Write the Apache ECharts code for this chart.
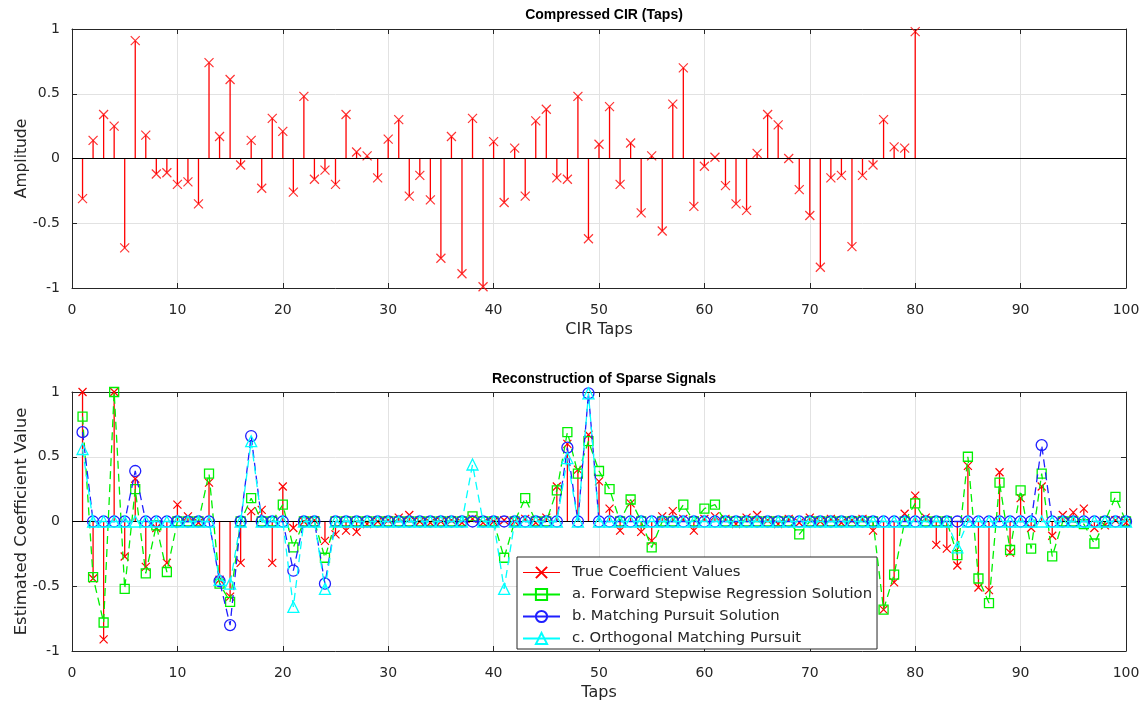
<!DOCTYPE html>
<html><head><meta charset="utf-8">
<script src="https://cdn.jsdelivr.net/npm/echarts@6/dist/echarts.min.js"></script>
<style>html,body{margin:0;padding:0;background:#fff}#c{width:1146px;height:707px}</style>
</head><body><div id="c"></div>
<script>
// ---- Top plot: Compressed CIR (taps 1..80)
const cirValues = [
 -0.31, 0.14, 0.34, 0.25, -0.69, 0.91, 0.18, -0.12, -0.11, -0.20,
 -0.18, -0.35, 0.74, 0.17, 0.61, -0.05, 0.14, -0.23, 0.31, 0.21,
 -0.26, 0.48, -0.16, -0.09, -0.20, 0.34, 0.05, 0.02, -0.15, 0.15,
 0.30, -0.29, -0.13, -0.32, -0.77, 0.17, -0.89, 0.31, -0.99, 0.13,
 -0.34, 0.08, -0.29, 0.29, 0.38, -0.15, -0.16, 0.48, -0.62, 0.11,
 0.40, -0.20, 0.12, -0.42, 0.02, -0.56, 0.42, 0.70, -0.37, -0.06,
 0.01, -0.21, -0.35, -0.40, 0.04, 0.34, 0.26, 0.00, -0.24, -0.44,
 -0.84, -0.15, -0.13, -0.68, -0.13, -0.05, 0.30, 0.09, 0.08, 0.98
];
// ---- Bottom plot: Reconstruction (taps 1..100)
const trueValues = [
 1.00, -0.44, -0.91, 1.00, -0.27, 0.33, -0.35, -0.05, -0.32, 0.13,
 0.04, -0.01, 0.30, -0.45, -0.58, -0.32, 0.08, 0.09, -0.32, 0.27,
 -0.05, 0.00, 0.01, -0.15, -0.10, -0.07, -0.08, -0.02, 0.00, 0.01,
 0.03, 0.05, 0.00, -0.01, 0.00, 0.01, -0.01, 0.02, -0.01, 0.00,
 0.01, 0.00, 0.02, -0.01, 0.03, 0.27, 0.60, 0.40, 0.67, 0.31,
 0.10, -0.07, 0.14, -0.08, -0.15, 0.04, 0.08, 0.02, -0.07, 0.02,
 0.04, 0.02, -0.02, 0.03, 0.05, 0.01, -0.02, 0.02, -0.01, 0.03,
 0.00, 0.02, -0.01, 0.01, 0.02, -0.07, -0.68, -0.47, 0.06, 0.20,
 0.03, -0.18, -0.21, -0.34, 0.43, -0.51, -0.53, 0.38, -0.24, 0.18,
 -0.05, 0.27, -0.11, 0.05, 0.07, 0.10, -0.05, -0.03, 0.01, -0.01
];
const forwardStepwise = [
 0.81, -0.43, -0.78, 1.00, -0.52, 0.25, -0.40, -0.03, -0.39, 0.00,
 0.00, 0.00, 0.37, -0.48, -0.62, 0.00, 0.18, 0.00, 0.00, 0.13,
 -0.20, 0.00, 0.00, -0.28, 0.00, 0.00, 0.00, 0.00, 0.00, 0.00,
 0.00, 0.00, 0.00, 0.00, 0.00, 0.00, 0.00, 0.04, 0.00, 0.00,
 -0.28, 0.00, 0.18, 0.00, 0.00, 0.24, 0.69, 0.37, 0.62, 0.39,
 0.25, 0.00, 0.17, 0.00, -0.20, 0.00, 0.00, 0.13, 0.00, 0.10,
 0.13, 0.00, 0.00, 0.00, 0.00, 0.00, 0.00, 0.00, -0.10, 0.00,
 0.00, 0.00, 0.00, 0.00, 0.00, 0.00, -0.68, -0.41, 0.00, 0.14,
 0.00, 0.00, 0.00, -0.26, 0.50, -0.44, -0.63, 0.30, -0.22, 0.24,
 -0.21, 0.37, -0.27, 0.00, 0.00, -0.02, -0.17, 0.00, 0.19, 0.00
];
const matchingPursuit = [
 0.69, 0, 0, 0, 0, 0.39, 0, 0, 0, 0,
 0, 0, 0, -0.46, -0.80, 0, 0.66, 0, 0, 0,
 -0.38, 0, 0, -0.48, 0, 0, 0, 0, 0, 0,
 0, 0, 0, 0, 0, 0, 0, 0, 0, 0,
 0, 0, 0, 0, 0, 0, 0.57, 0, 0.99, 0,
 0, 0, 0, 0, 0, 0, 0, 0, 0, 0,
 0, 0, 0, 0, 0, 0, 0, 0, 0, 0,
 0, 0, 0, 0, 0, 0, 0, 0, 0, 0,
 0, 0, 0, 0, 0, 0, 0, 0, 0, 0,
 0, 0.59, 0, 0, 0, 0, 0, 0, 0, 0
];
const orthogonalMP = [
 0.56, 0, 0, 0, 0, 0, 0, 0, 0, 0,
 0, 0, 0, -0.45, -0.48, 0, 0.62, 0, 0, 0,
 -0.66, 0, 0, -0.52, 0, 0, 0, 0, 0, 0,
 0, 0, 0, 0, 0, 0, 0, 0.44, 0, 0,
 -0.52, 0, 0, 0, 0, 0, 0.49, 0, 0.99, 0,
 0, 0, 0, 0, 0, 0, 0, 0, 0, 0,
 0, 0, 0, 0, 0, 0, 0, 0, 0, 0,
 0, 0, 0, 0, 0, 0, 0, 0, 0, 0,
 0, 0, 0, -0.20, 0, 0, 0, 0, 0, 0,
 0, 0, 0, 0, 0, 0, 0, 0, 0, 0
];
const seriesNames = ['True Coefficient Values', 'a. Forward Stepwise Regression Solution',
  'b. Matching Pursuit Solution', 'c. Orthogonal Matching Pursuit'];
const titles = ['Compressed CIR (Taps)', 'Reconstruction of Sparse Signals'];
const xNames = ['CIR Taps', 'Taps'];
const yNames = ['Amplitude', 'Estimated Coefficient Value'];

const toXY = arr => arr.map((v, i) => [i + 1, v]);
const FONT = 'DejaVu Sans';
const AX = '#262626';
const GRIDC = '#e2e2e2';
const xMark = 'path://M0,0L10,10M10,0L0,10';

const grids = [
  {left: 72, right: 20, top: 29, height: 259, outerBoundsMode: 'none', containLabel: false},
  {left: 72, right: 20, top: 392, height: 259, outerBoundsMode: 'none', containLabel: false}
];
const yNameSize = [15.5, 16.5];
function xAxes(g) {
  return [
    {gridIndex: g, type: 'value', min: 0, max: 100, interval: 10, position: 'bottom',
     axisLine: {show: true, onZero: false, lineStyle: {color: AX, width: 1}},
     axisTick: {show: true, inside: true, length: 5, lineStyle: {color: AX}},
     axisLabel: {color: AX, fontSize: 14, fontFamily: FONT, margin: 15},
     splitLine: {show: true, lineStyle: {color: GRIDC, width: 1}},
     name: xNames[g], nameLocation: 'middle', nameGap: 34,
     nameTextStyle: {color: AX, fontSize: 16, fontFamily: FONT}},
    {gridIndex: g, type: 'value', min: 0, max: 100, interval: 10, position: 'top',
     axisLine: {show: true, onZero: false, lineStyle: {color: AX, width: 1}},
     axisTick: {show: true, inside: true, length: 5, lineStyle: {color: AX}},
     axisLabel: {show: false}, splitLine: {show: false}}
  ];
}
function yAxes(g) {
  return [
    {gridIndex: g, type: 'value', min: -1, max: 1, interval: 0.5, position: 'left',
     axisLine: {show: true, onZero: false, lineStyle: {color: AX, width: 1}},
     axisTick: {show: true, inside: true, length: 5, lineStyle: {color: AX}},
     axisLabel: {color: AX, fontSize: 14, fontFamily: FONT, margin: 12},
     splitLine: {show: true, lineStyle: {color: GRIDC, width: 1}},
     name: yNames[g], nameLocation: 'middle', nameRotate: 90, nameGap: 42,
     nameMoveOverlap: false,
     nameTextStyle: {color: AX, fontSize: yNameSize[g], fontFamily: FONT}},
    {gridIndex: g, type: 'value', min: -1, max: 1, interval: 0.5, position: 'right',
     axisLine: {show: true, onZero: false, lineStyle: {color: AX, width: 1}},
     axisTick: {show: true, inside: true, length: 5, lineStyle: {color: AX}},
     axisLabel: {show: false}, splitLine: {show: false}}
  ];
}
const baseLine = {
  silent: true, symbol: ['none', 'none'], label: {show: false},
  lineStyle: {color: '#000', width: 1, type: 'solid'}, emphasis: {disabled: true},
  data: [{yAxis: 0}]
};
const RED = '#ff0000', GREEN = '#00f000', BLUE = '#1f1fff', CYAN = '#00ffff';

const option = {
  animation: false,
  backgroundColor: '#fff',
  title: [
    {text: titles[0], left: 599, top: 3, textAlign: 'center',
     textStyle: {fontSize: 14, fontWeight: 'bold', color: '#000', fontFamily: 'Liberation Sans'}},
    {text: titles[1], left: 599, top: 367, textAlign: 'center',
     textStyle: {fontSize: 14, fontWeight: 'bold', color: '#000', fontFamily: 'Liberation Sans'}}
  ],
  grid: grids,
  xAxis: [...xAxes(0), ...xAxes(1)],
  yAxis: [...yAxes(0), ...yAxes(1)],
  legend: {
    orient: 'vertical', left: 517, top: 557,
    padding: [8, 5, 3, 5], itemWidth: 37, itemHeight: 14, itemGap: 7,
    backgroundColor: '#fff', borderColor: AX, borderWidth: 1, borderRadius: 0,
    textStyle: {fontSize: 14.8, color: AX, fontFamily: FONT, padding: [0, 0, 0, 7]},
    lineStyle: {type: 'solid'},
    selectedMode: false,
    data: [
      {name: seriesNames[0], lineStyle: {opacity: 1, color: RED, width: 1.2, type: 'solid'}},
      seriesNames[1], seriesNames[2], seriesNames[3]
    ]
  },
  series: [
    {type: 'bar', name: 'cirStem', xAxisIndex: 0, yAxisIndex: 0, barWidth: 1.3,
     itemStyle: {color: RED}, data: toXY(cirValues), silent: true, markLine: baseLine},
    {type: 'scatter', name: 'cirMark', xAxisIndex: 0, yAxisIndex: 0, symbol: xMark, symbolSize: 9,
     itemStyle: {color: 'rgba(0,0,0,0)', borderColor: RED, borderWidth: 1.2},
     data: toXY(cirValues), silent: true, z: 3},
    {type: 'bar', name: 'trueStem', xAxisIndex: 2, yAxisIndex: 2, barWidth: 1.3,
     itemStyle: {color: RED}, data: toXY(trueValues), silent: true, markLine: baseLine},
    {type: 'line', name: seriesNames[0], xAxisIndex: 2, yAxisIndex: 2, symbol: xMark, symbolSize: 8,
     showAllSymbol: true, lineStyle: {color: RED, opacity: 0, width: 1.2},
     itemStyle: {color: 'rgba(0,0,0,0)', borderColor: RED, borderWidth: 1.2},
     data: toXY(trueValues), silent: true, z: 3},
    {type: 'line', name: seriesNames[1], xAxisIndex: 2, yAxisIndex: 2, symbol: 'rect', symbolSize: 9,
     showAllSymbol: true, lineStyle: {color: GREEN, width: 1.3, type: [8, 5]},
     itemStyle: {color: 'rgba(0,0,0,0)', borderColor: GREEN, borderWidth: 1.3},
     data: toXY(forwardStepwise), silent: true, z: 4},
    {type: 'line', name: seriesNames[2], xAxisIndex: 2, yAxisIndex: 2, symbol: 'circle', symbolSize: 11,
     showAllSymbol: true, lineStyle: {color: BLUE, width: 1.3, type: [8, 5]},
     itemStyle: {color: 'rgba(0,0,0,0)', borderColor: BLUE, borderWidth: 1.3},
     data: toXY(matchingPursuit), silent: true, z: 5},
    {type: 'line', name: seriesNames[3], xAxisIndex: 2, yAxisIndex: 2, symbol: 'triangle', symbolSize: 11,
     showAllSymbol: true, lineStyle: {color: CYAN, width: 1.3, type: [8, 5]},
     itemStyle: {color: 'rgba(0,0,0,0)', borderColor: CYAN, borderWidth: 1.3},
     data: toXY(orthogonalMP), silent: true, z: 6}
  ]
};
const chart = echarts.init(document.getElementById('c'), null, {renderer: 'canvas'});
chart.setOption(option);
</script></body></html>
